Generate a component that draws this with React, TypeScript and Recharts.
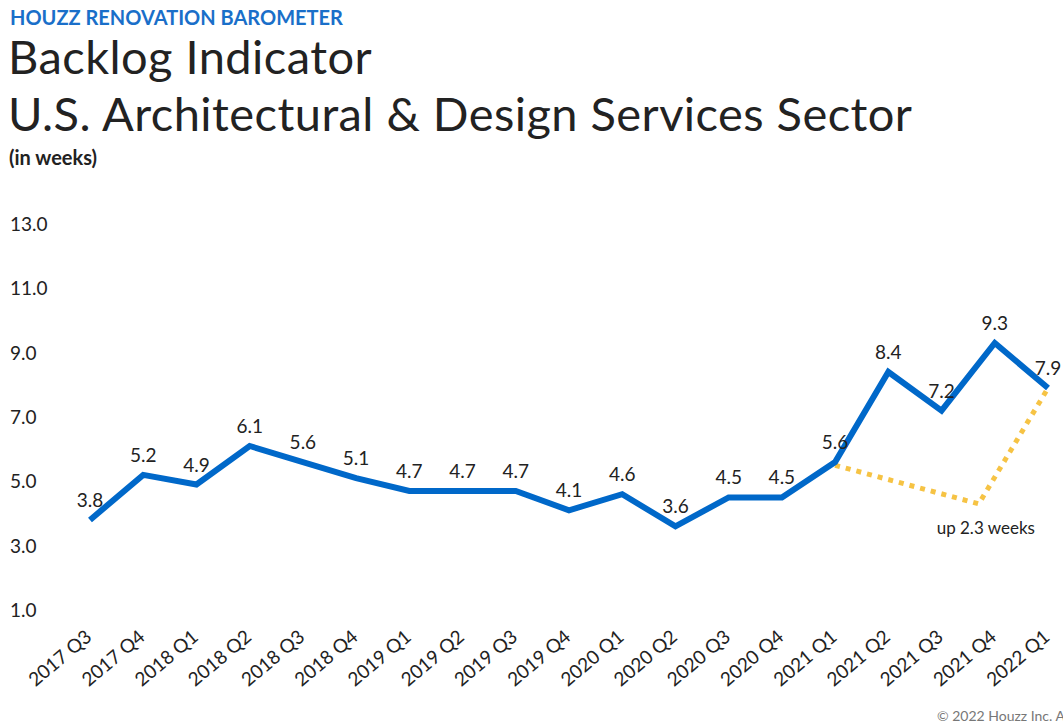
import { LineChart, Line, XAxis, YAxis, LabelList, ReferenceDot } from "recharts";

const quarters = [
  "2017 Q3", "2017 Q4", "2018 Q1", "2018 Q2", "2018 Q3", "2018 Q4",
  "2019 Q1", "2019 Q2", "2019 Q3", "2019 Q4", "2020 Q1", "2020 Q2",
  "2020 Q3", "2020 Q4", "2021 Q1", "2021 Q2", "2021 Q3", "2021 Q4", "2022 Q1",
];
const backlog = [3.8, 5.2, 4.9, 6.1, 5.6, 5.1, 4.7, 4.7, 4.7, 4.1, 4.6, 3.6, 4.5, 4.5, 5.6, 8.4, 7.2, 9.3, 7.9];
const yTicks = [1, 3, 5, 7, 9, 11, 13];

// dotted bracket showing the year-over-year jump
const bracketX = [14, 16.7, 18];
const bracketY = [5.5, 4.3, 7.9];

const font = "Lato, 'Open Sans', sans-serif";
const blue = "#0068c9";
const gold = "#f6c344";

const data = quarters.map((q, i) => ({ x: i, label: q, value: backlog[i] }));
const bracket = bracketX.map((x, i) => ({ x, v: bracketY[i] }));

const YTick = ({ y, payload }: any) => (
  <text x={10} y={y} dy={7} textAnchor="start" fontSize={19} fill="#222" fontFamily={font}>
    {payload.value.toFixed(1)}
  </text>
);

const XTick = ({ x, y, payload }: any) => (
  <g transform={`translate(${x + 3},${y + 21})`}>
    <text textAnchor="end" transform="rotate(-40)" fontSize={19} fill="#222" fontFamily={font}>
      {quarters[payload.value]}
    </text>
  </g>
);

export default function App() {
  return (
    <div style={{ position: "absolute", left: 0, top: 0, width: 1063, height: 726, background: "#fff", overflow: "hidden", fontFamily: font }}>
      <div style={{ position: "absolute", left: 10, top: 5, fontSize: 20, fontWeight: 700, color: "#1a6fc9", whiteSpace: "nowrap" }}>
        HOUZZ RENOVATION BAROMETER
      </div>
      <div style={{ position: "absolute", left: 8, top: 28, fontSize: 47, color: "#222", lineHeight: "57px", letterSpacing: 0.45, whiteSpace: "nowrap" }}>
        Backlog Indicator
        <br />
        U.S. Architectural &amp; Design Services Sector
      </div>
      <div style={{ position: "absolute", left: 9, top: 145, fontSize: 20, fontWeight: 700, color: "#222" }}>
        (in weeks)
      </div>
      <div style={{ position: "absolute", left: 937, top: 707, fontSize: 14, color: "#777", whiteSpace: "nowrap" }}>
        © 2022 Houzz Inc. All rights reserved.
      </div>
      <div style={{ position: "absolute", left: 0, top: 0 }}>
        <LineChart width={1063} height={726} data={data} margin={{ top: 224, right: 15, bottom: 0, left: 0 }}>
          <XAxis
            dataKey="x"
            type="number"
            domain={[0, 18]}
            ticks={quarters.map((_, i) => i)}
            interval={0}
            axisLine={false}
            tickLine={false}
            height={116}
            tick={<XTick />}
          />
          <YAxis
            type="number"
            domain={[1, 13]}
            ticks={yTicks}
            axisLine={false}
            tickLine={false}
            width={90}
            tick={<YTick />}
          />
          <Line
            data={bracket}
            dataKey="v"
            stroke={gold}
            strokeWidth={5}
            strokeDasharray="5 6"
            dot={false}
            isAnimationActive={false}
          />
          <Line
            dataKey="value"
            stroke={blue}
            strokeWidth={6}
            strokeLinejoin="miter"
            dot={false}
            isAnimationActive={false}
          >
            <LabelList dataKey="value" position="top" offset={13} fontSize={19} fill="#222" fontFamily={font} formatter={(v: any) => Number(v).toFixed(1)} />
          </Line>
          <ReferenceDot
            x={16.7}
            y={4.3}
            r={0}
            fill="none"
            stroke="none"
            label={{ value: "up 2.3 weeks", position: "bottom", offset: 18, fontSize: 17, fill: "#222", fontFamily: font, dx: 7 }}
          />
        </LineChart>
      </div>
    </div>
  );
}
